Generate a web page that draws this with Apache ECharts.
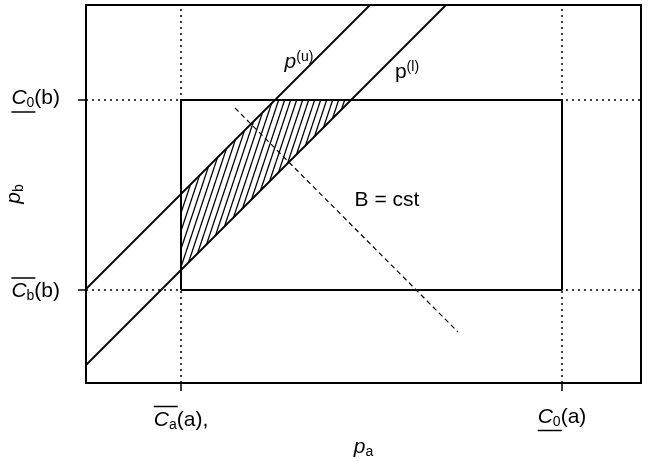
<!DOCTYPE html>
<html><head><meta charset="utf-8">
<script src="https://cdn.jsdelivr.net/npm/echarts@6/dist/echarts.min.js"></script>
<style>html,body{margin:0;padding:0;background:#fff}#c{width:652px;height:461px}</style>
</head><body><div id="c"></div>
<script>
// ---- data (axis units) ----
const paRange = [0, 555];
const pbRange = [0, 378];
const paTicks = [95, 476];                 // Ca(a), C0(a)
const pbTicks = [93, 283];                 // Cb(b), C0(b)
const xTickLabels = ['{ob| }\n{i|C}{sub|a}{n|(a),}', '{i|C}{sub|0}{n|(a)}\n{ub| }'];
const yTickLabels = ['{ob| }\n{i|C}{sub|b}{n|(b)}', '{i|C}{sub|0}{n|(b)}\n{ub| }'];
const rectCorners = [[95, 93], [476, 93], [476, 283], [95, 283], [95, 93]];
const pUpper = [[0, 94], [284, 378]];
const pLower = [[0, 18], [360, 378]];
const budgetLine = [[149, 275], [372, 51]];
const hatchRegion = [[95, 113], [95, 189], [189, 283], [265, 283]];
const annoPoints = [[213, 321], [321, 311], [301, 183]];
const annoTexts = ['{i|p}{sup|(u)}', '{n|p}{sup|(l)}', '{n|B = cst}'];

// ---- styles ----
const F = 'Liberation Sans';
const base = {fontFamily: F, color: '#000', textBorderWidth: 0, opacity: 1};
const rich = {
  i: Object.assign({}, base, {fontSize: 21, fontStyle: 'italic', lineHeight: 24}),
  n: Object.assign({}, base, {fontSize: 21, lineHeight: 24}),
  sub: Object.assign({}, base, {fontSize: 14, verticalAlign: 'bottom'}),
  sup: Object.assign({}, base, {fontSize: 14, verticalAlign: 'top'}),
  ob: {width: 24, height: 1.5, lineHeight: 3, backgroundColor: '#000', align: 'left', fontSize: 1},
  ub: {width: 24, height: 1.5, lineHeight: 3, backgroundColor: '#000', align: 'left', fontSize: 1}
};

// hatch pattern tile
const tile = document.createElement('canvas');
tile.width = 6; tile.height = 18;
(function () {
  const ctx = tile.getContext('2d');
  ctx.strokeStyle = '#000'; ctx.lineWidth = 1.3;
  for (let k = -1; k <= 1; k++) {
    ctx.beginPath();
    ctx.moveTo(k * 6, 18);
    ctx.lineTo(k * 6 + 6, 0);
    ctx.stroke();
  }
})();

const chart = echarts.init(document.getElementById('c'), null, {renderer: 'canvas'});
const black = '#000';
chart.setOption({
  animation: false,
  backgroundColor: '#fff',
  grid: {left: 86, top: 5, right: 11, bottom: 78, containLabel: false, outerBoundsMode: 'none',
    show: true, borderColor: black, borderWidth: 2},
  xAxis: {
    type: 'value', min: paRange[0], max: paRange[1],
    name: '{i|p}{sub|a}', nameLocation: 'middle', nameGap: 52, nameMoveOverlap: false, nameTextStyle: {rich},
    axisLine: {show: true, lineStyle: {color: black, width: 2}},
    axisTick: {show: true, customValues: paTicks, length: 8, lineStyle: {color: black, width: 1.5}},
    axisLabel: {customValues: paTicks, margin: 22, color: black, rich,
      formatter: v => { const i = paTicks.indexOf(v); return i >= 0 ? xTickLabels[i] : ''; }},
    splitLine: {show: false}
  },
  yAxis: {
    type: 'value', min: pbRange[0], max: pbRange[1],
    name: '{i|p}{sub|b}', nameLocation: 'middle', nameGap: 60, nameMoveOverlap: false, nameTextStyle: {rich},
    axisLine: {show: true, lineStyle: {color: black, width: 2}},
    axisTick: {show: true, customValues: pbTicks, length: 8, lineStyle: {color: black, width: 1.5}},
    axisLabel: {customValues: pbTicks, margin: 26, color: black, rich,
      formatter: v => { const i = pbTicks.indexOf(v); return i >= 0 ? yTickLabels[i] : ''; }},
    splitLine: {show: false}
  },
  series: [
    {
      type: 'custom', silent: true, z: 1, data: [[0, 0]],
      renderItem: (params, api) => ({
        type: 'polygon',
        shape: {points: hatchRegion.map(p => api.coord(p))},
        style: {fill: {image: tile, repeat: 'repeat'}, stroke: null}
      })
    },
    {
      type: 'line', data: rectCorners, symbol: 'none', silent: true, z: 3,
      lineStyle: {color: black, width: 2},
      markLine: {
        silent: true, symbol: ['none', 'none'], label: {show: false}, animation: false,
        lineStyle: {color: black, type: [2, 4], width: 1.5},
        emphasis: {disabled: true},
        data: paTicks.map(v => ({xAxis: v})).concat(pbTicks.map(v => ({yAxis: v})))
      }
    },
    {type: 'line', data: pUpper, symbol: 'none', silent: true, z: 3, lineStyle: {color: black, width: 1.8}},
    {type: 'line', data: pLower, symbol: 'none', silent: true, z: 3, lineStyle: {color: black, width: 1.8}},
    {type: 'line', data: budgetLine, symbol: 'none', silent: true, z: 3, lineStyle: {color: black, width: 1.2, type: [5, 3.5]}},
    {
      type: 'scatter', data: annoPoints, symbolSize: 0, silent: true, z: 4,
      itemStyle: {color: black, opacity: 1},
      label: {show: true, position: 'inside', color: black, textBorderWidth: 0, opacity: 1, rich,
        formatter: p => annoTexts[p.dataIndex]}
    }
  ]
});
</script></body></html>
